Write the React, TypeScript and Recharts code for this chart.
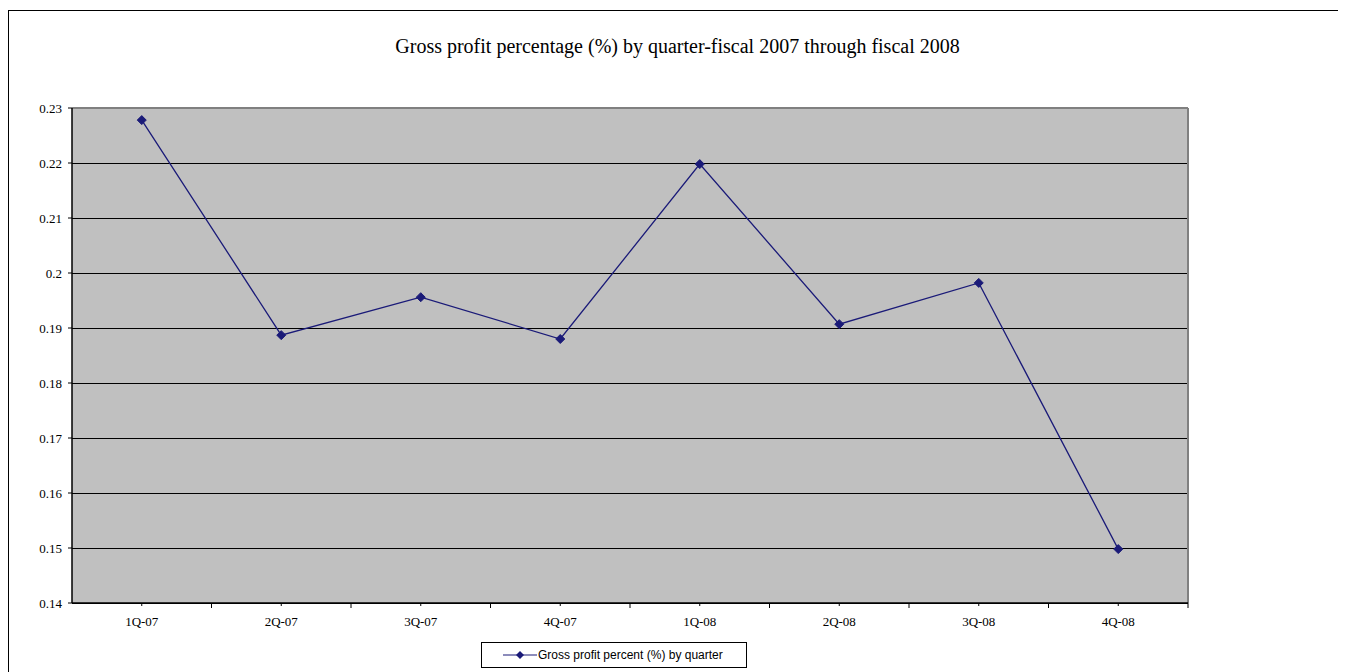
import { CartesianGrid, Legend, Line, LineChart, XAxis, YAxis } from 'recharts';

const quarters = ['1Q-07', '2Q-07', '3Q-07', '4Q-07', '1Q-08', '2Q-08', '3Q-08', '4Q-08'];
const grossProfit = [0.2278, 0.1887, 0.1956, 0.188, 0.2198, 0.1907, 0.1982, 0.1498];
const yTicks = [0.14, 0.15, 0.16, 0.17, 0.18, 0.19, 0.2, 0.21, 0.22, 0.23];

const data = quarters.map((q, i) => ({ quarter: q, value: grossProfit[i] }));

const SERIES = 'Gross profit percent (%) by quarter';
const NAVY = '#1a1a78';
const PLOT_W = 1116;
const BAND = PLOT_W / quarters.length;

function Diamond(props: any) {
  const { cx, cy } = props;
  if (cx == null || cy == null) return null;
  return <path d={`M${cx},${cy - 4.5}L${cx + 4.5},${cy}L${cx},${cy + 4.5}L${cx - 4.5},${cy}Z`} fill={NAVY} stroke={NAVY} />;
}

function QuarterTick(props: any) {
  const { x, y, payload } = props;
  return (
    <g>
      <line x1={x} y1={y} x2={x} y2={y + 3} stroke="#000" />
      <line x1={x + BAND / 2} y1={y} x2={x + BAND / 2} y2={y + 5} stroke="#000" />
      <text x={x} y={y + 23} textAnchor="middle" fontSize={13} fill="#000" fontFamily="'Liberation Serif', serif">
        {payload.value}
      </text>
    </g>
  );
}

function LegendBox() {
  return (
    <div
      style={{
        width: 264,
        height: 24,
        border: '1px solid #000',
        boxSizing: 'content-box',
        display: 'flex',
        alignItems: 'center',
        fontFamily: "'Liberation Sans', Arial, sans-serif",
        fontSize: 12,
        color: '#000',
        background: '#fff',
      }}
    >
      <svg width={56} height={24}>
        <line x1={21} y1={12} x2={55} y2={12} stroke={NAVY} strokeWidth={1.2} />
        <path d="M38,8L42,12L38,16L34,12Z" fill={NAVY} />
      </svg>
      <span>{SERIES}</span>
    </div>
  );
}

export default function App() {
  return (
    <div
      style={{
        position: 'relative',
        marginTop: 2,
        width: 1345,
        height: 661,
        overflow: 'hidden',
        borderLeft: '1px solid #000',
        borderTop: '1px solid #000',
        background: '#fff',
      }}
    >
      <style>{'html, body { overflow: hidden; }'}</style>
      <div
        style={{
          position: 'absolute',
          top: 24,
          left: 0,
          width: 1337,
          textAlign: 'center',
          fontFamily: "'Liberation Serif', serif",
          fontSize: 20,
          color: '#000',
        }}
      >
        Gross profit percentage (%) by quarter-fiscal 2007 through fiscal 2008
      </div>
      <LineChart width={1337} height={660} data={data} margin={{ top: 97, right: 158, bottom: 12, left: 0 }}>
        <CartesianGrid vertical={false} stroke="#000" fill="#C0C0C0" fillOpacity={1} shapeRendering="crispEdges" />
        <CartesianGrid
          stroke="#808080"
          strokeWidth={2}
          horizontalCoordinatesGenerator={({ offset }: any) => [offset.top]}
          verticalCoordinatesGenerator={({ offset }: any) => [offset.left + offset.width]}
        />
        <XAxis
          dataKey="quarter"
          height={30}
          tickSize={0}
          tickMargin={0}
          tickLine={false}
          padding={{ left: BAND / 2, right: BAND / 2 }}
          axisLine={{ stroke: '#000', strokeWidth: 1.5 }}
          tick={<QuarterTick />}
          interval={0}
        />
        <YAxis
          width={63}
          domain={[0.14, 0.23]}
          ticks={yTicks}
          interval={0}
          tickSize={4}
          tickMargin={6}
          axisLine={{ stroke: '#000', strokeWidth: 1.5 }}
          tickLine={{ stroke: '#000' }}
          tick={{ fill: '#000', fontSize: 13, fontFamily: "'Liberation Serif', serif" }}
        />
        <Legend
          verticalAlign="bottom"
          content={() => <LegendBox />}
          wrapperStyle={{ position: 'absolute', left: 472, top: 631, width: 'auto', bottom: 'auto' }}
        />
        <Line
          type="linear"
          dataKey="value"
          name={SERIES}
          stroke={NAVY}
          strokeWidth={1.3}
          dot={<Diamond />}
          activeDot={false}
          isAnimationActive={false}
        />
      </LineChart>
    </div>
  );
}
